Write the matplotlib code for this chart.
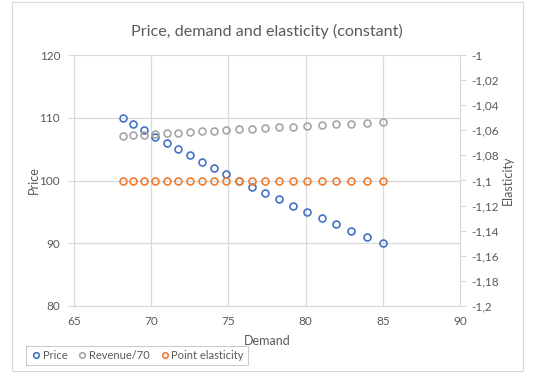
import matplotlib.pyplot as plt
from matplotlib.ticker import FuncFormatter
from matplotlib.lines import Line2D
from matplotlib.patches import Rectangle

plt.rcParams['font.family'] = ['Lato', 'DejaVu Sans']

# data
price = [110, 109, 108, 107, 106, 105, 104, 103, 102, 101, 100,
         99, 98, 97, 96, 95, 94, 93, 92, 91, 90]
demand = [68.17, 68.85, 69.55, 70.27, 71.00, 71.74, 72.50, 73.28, 74.07, 74.87, 75.70,
          76.54, 77.40, 78.28, 79.17, 80.09, 81.03, 81.99, 82.97, 83.97, 85.00]
revenue_70 = [107.12, 107.21, 107.31, 107.41, 107.51, 107.61, 107.71, 107.83, 107.93, 108.03, 108.14,
              108.25, 108.36, 108.47, 108.58, 108.69, 108.81, 108.93, 109.05, 109.16, 109.29]
elasticity = [-1.1] * 21

BLUE = '#4472C4'
GRAY = '#A5A5A5'
ORANGE = '#ED7D31'
TXT = '#595959'
GRID = '#D9D9D9'

W, H = 536, 381
fig = plt.figure(figsize=(W / 100, H / 100), dpi=100)
fig.patches.append(Rectangle((12 / W, 1 - 371 / H), (523 - 12) / W, (371 - 2) / H,
                             transform=fig.transFigure, fill=False, ec='#D9D9D9', lw=0.8))

ax = fig.add_axes([74 / W, 1 - 306 / H, (460 - 74) / W, (306 - 55) / H])
ax2 = ax.twinx()

mk = dict(ls='none', marker='o', ms=5, mfc='none', mew=1.2)
ax.plot(demand, price, color=BLUE, mec=BLUE, **mk)
ax.plot(demand, revenue_70, color=GRAY, mec=GRAY, **mk)
ax2.plot(demand, elasticity, color=ORANGE, mec=ORANGE, **mk)

ax.set_xlim(65, 90)
ax.set_ylim(80, 120)
ax.set_xticks(range(65, 91, 5))
ax.set_yticks(range(80, 121, 10))
ax2.set_ylim(-1.2, -1.0)
ax2.set_yticks([-1.2 + 0.02 * i for i in range(11)])
ax2.yaxis.set_major_formatter(FuncFormatter(lambda v, p: ('%g' % round(v, 2)).replace('.', ',')))

ax.grid(True, color=GRID, lw=0.9)
ax.set_axisbelow(True)
for a in (ax, ax2):
    for s in a.spines.values():
        s.set_visible(False)
    a.tick_params(colors=TXT, labelsize=8.5, length=0)
ax.spines['left'].set_visible(True)
ax.spines['left'].set_color(GRID)
ax.spines['bottom'].set_visible(True)
ax.spines['bottom'].set_color(GRID)
ax2.spines['right'].set_visible(True)
ax2.spines['right'].set_color(GRID)
ax2.tick_params(axis='y', length=4, color=GRID, pad=4)
ax.tick_params(axis='y', length=4, color=GRID, pad=6)
ax.tick_params(axis='x', pad=7)

ax.set_xlabel('Demand', color=TXT, fontsize=9, labelpad=6)
ax.set_ylabel('Price', color=TXT, fontsize=9, labelpad=0)
ax2.set_ylabel('Elasticity', color=TXT, fontsize=9, labelpad=2)

fig.text(0.5 * (74 + 460) / W, 1 - 31 / H, 'Price, demand and elasticity (constant)',
         ha='center', va='center', color=TXT, fontsize=11.6)

handles = [Line2D([], [], color=c, mec=c, marker='o', ls='none', ms=4, mfc='none', mew=1.2)
           for c in (BLUE, GRAY, ORANGE)]
leg = fig.legend(handles, ['Price', 'Revenue/70', 'Point elasticity'], ncol=3,
                 loc='center left', bbox_to_anchor=(20 / W, 1 - 355.5 / H),
                 fontsize=8, frameon=True, fancybox=False, edgecolor='#BFBFBF',
                 handletextpad=0.0, columnspacing=0.75, handlelength=1.2,
                 borderpad=0.35, labelcolor=TXT)
leg.get_frame().set_linewidth(0.8)

fig.savefig('out.png', dpi=100)
